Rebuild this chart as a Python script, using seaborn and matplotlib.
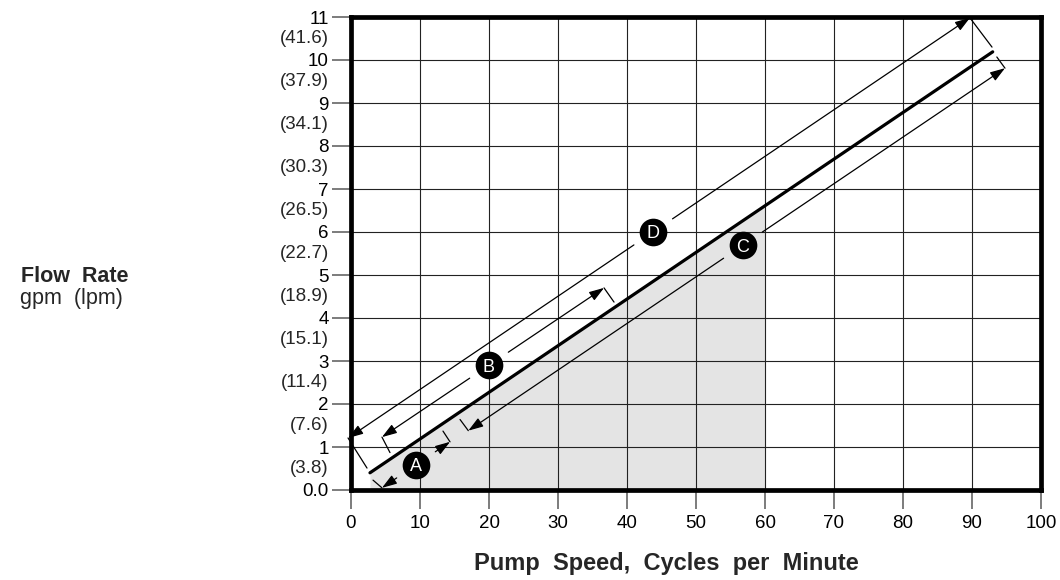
import numpy as np
import pandas as pd
import matplotlib
matplotlib.use("Agg")
import matplotlib.pyplot as plt
import seaborn as sns

# ---------------- data ----------------
speed_ticks = [0, 10, 20, 30, 40, 50, 60, 70, 80, 90, 100]
gpm_ticks = [0, 1, 2, 3, 4, 5, 6, 7, 8, 9, 10, 11]
gpm_labels = ["0.0", "1", "2", "3", "4", "5", "6", "7", "8", "9", "10", "11"]
lpm_labels = ["(3.8)", "(7.6)", "(11.4)", "(15.1)", "(18.9)", "(22.7)",
              "(26.5)", "(30.3)", "(34.1)", "(37.9)", "(41.6)"]

# main pump curve
main_speed = [2.75, 93.0]
main_flow = [0.40, 10.19]

# shaded operating region (under curve up to 60 cpm)
shade_speed = [2.75, 60.0]
shade_flow = [0.40, 6.60]

# dimension arrows A-D
dim_labels = ["A", "B", "C", "D"]
dim_start_x = [4.49, 4.49, 17.0, -0.40]
dim_start_y = [0.05, 1.23, 1.38, 1.21]
dim_end_x = [14.35, 36.67, 94.78, 89.70]
dim_end_y = [1.12, 4.70, 9.81, 10.98]
dim_label_x = [9.42, 20.0, 56.8, 43.8]

# short extension ticks at arrow ends
ext_tick_x0 = [14.35, 4.49, 36.67, 17.0]
ext_tick_y0 = [1.12, 1.23, 4.70, 1.38]
ext_tick_x1 = [13.33, 5.65, 38.12, 15.80]
ext_tick_y1 = [1.37, 0.87, 4.37, 1.64]

# long extension lines (split around curve ends)
ext_line_x0 = [-0.43, 3.19, 89.70, 93.60]
ext_line_y0 = [1.21, 0.23, 10.98, 10.07]
ext_line_x1 = [2.32, 4.49, 92.90, 94.78]
ext_line_y1 = [0.51, 0.05, 10.30, 9.81]

# ---------------- style ----------------
sns.set_theme(style="white")
plt.rcParams["font.family"] = ["Liberation Sans", "DejaVu Sans"]

fig = plt.figure(figsize=(10.6, 5.8), dpi=100)
ax = fig.add_axes([351 / 1060, 90 / 580, 690 / 1060, 473 / 580])

ax.set_xlim(0, 100)
ax.set_ylim(0, 11)
ax.set_xticks(speed_ticks)
ax.set_xticklabels([str(v) for v in speed_ticks])
ax.set_yticks(gpm_ticks)
ax.set_yticklabels(gpm_labels)
ax.tick_params(axis="both", bottom=True, left=True, length=14, width=1.2,
               color="#666666", labelsize=13.5, labelcolor="black")
ax.tick_params(axis="x", pad=4)
ax.tick_params(axis="y", pad=2)
ax.set_axisbelow(True)
ax.grid(True, color="#222222", linewidth=0.8)
for sp in ax.spines.values():
    sp.set_visible(True)
    sp.set_color("black")
    sp.set_linewidth(3.4)
    sp.set_zorder(6)

# lpm labels between gpm ticks
for k, lab in enumerate(lpm_labels):
    ax.annotate(lab, xy=(0, gpm_ticks[k + 1] - 0.5), xycoords=ax.get_yaxis_transform(),
                xytext=(-16, 0), textcoords="offset points", ha="right", va="center",
                fontsize=13.5, annotation_clip=False)

# shaded region
ax.fill_between(shade_speed, [0, 0], shade_flow, color="#e4e4e4", linewidth=0, zorder=0.2)

# main line
main_df = pd.DataFrame({"speed": main_speed, "flow": main_flow})
sns.lineplot(data=main_df, x="speed", y="flow", ax=ax, color="black",
             linewidth=2.3, zorder=4, legend=False)

arrow_kw = dict(arrowstyle="-|>,head_length=0.75,head_width=0.25", color="black",
                lw=0.9, shrinkA=0, shrinkB=0, mutation_scale=12)
gap = 2.8
label_y = []
for i in range(len(dim_labels)):
    sx, sy, ex, ey = dim_start_x[i], dim_start_y[i], dim_end_x[i], dim_end_y[i]
    slope = (ey - sy) / (ex - sx)
    lx = dim_label_x[i]
    ly = sy + slope * (lx - sx)
    label_y.append(ly)
    g0 = (lx - gap, sy + slope * (lx - gap - sx))
    g1 = (lx + gap, sy + slope * (lx + gap - sx))
    ax.annotate("", xy=(sx, sy), xytext=g0, arrowprops=arrow_kw,
                annotation_clip=False, zorder=5)
    ax.annotate("", xy=(ex, ey), xytext=g1, arrowprops=arrow_kw,
                annotation_clip=False, zorder=5)

for i in range(len(ext_tick_x0)):
    ax.plot([ext_tick_x0[i], ext_tick_x1[i]], [ext_tick_y0[i], ext_tick_y1[i]],
            color="black", lw=0.9, clip_on=False, zorder=5)
for i in range(len(ext_line_x0)):
    ax.plot([ext_line_x0[i], ext_line_x1[i]], [ext_line_y0[i], ext_line_y1[i]],
            color="black", lw=0.9, clip_on=False, zorder=5)

# letter markers
lab_df = pd.DataFrame({"x": dim_label_x, "y": label_y, "lab": dim_labels})
sns.scatterplot(data=lab_df, x="x", y="y", ax=ax, s=340, color="black",
                edgecolor="black", zorder=7, legend=False)
for i, lab in enumerate(dim_labels):
    ax.text(dim_label_x[i], label_y[i], lab, color="white", fontsize=13,
            ha="center", va="center_baseline", zorder=8)

ax.set_xlabel("")
ax.set_ylabel("")

fig.text(666.5 / 1060, (580 - 570) / 580, "Pump  Speed,  Cycles  per  Minute",
         ha="center", va="baseline", fontsize=17, fontweight="bold")
fig.text(74.5 / 1060, (580 - 282) / 580, "Flow  Rate", ha="center", va="baseline",
         fontsize=15.5, fontweight="bold")
fig.text(71.5 / 1060, (580 - 304) / 580, "gpm  (lpm)", ha="center", va="baseline",
         fontsize=15.5)

fig.savefig("out.png", dpi=100)
